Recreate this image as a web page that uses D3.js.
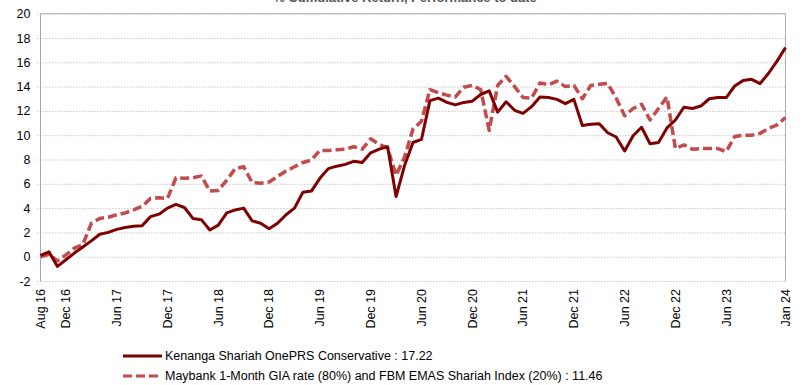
<!DOCTYPE html>
<html>
<head>
<meta charset="utf-8">
<script src="https://cdn.jsdelivr.net/npm/d3@7"></script>
<style>
  html, body { margin: 0; padding: 0; background: #fff; }
  svg { display: block; font-family: "Liberation Sans", Arial, sans-serif; }
</style>
</head>
<body>
<svg id="chart" width="803" height="385"></svg>
<script>
// ---- Data ----
const seriesNames = [
  "Kenanga Shariah OnePRS Conservative : 17.22",
  "Maybank 1-Month GIA rate (80%) and FBM EMAS Shariah Index (20%) : 11.46"
];
const fundValues = [
  0.1, 0.4, -0.8, -0.25, 0.3, 0.8, 1.3, 1.85, 2.0, 2.25,
  2.4, 2.5, 2.55, 3.3, 3.5, 4.0, 4.3, 4.05, 3.15, 3.05,
  2.2, 2.6, 3.6, 3.85, 4.0, 2.95, 2.75, 2.3, 2.75, 3.45,
  4.0, 5.3, 5.4, 6.45, 7.25, 7.45, 7.6, 7.85, 7.75, 8.55,
  8.85, 9.05, 4.95, 7.5, 9.4, 9.65, 12.85, 13.05, 12.7, 12.5,
  12.7, 12.8, 13.35, 13.65, 11.9, 12.75, 12.05, 11.8, 12.35, 13.15,
  13.1, 12.95, 12.6, 12.95, 10.8, 10.9, 10.95, 10.2, 9.85, 8.7,
  9.95, 10.65, 9.3, 9.4, 10.6, 11.25, 12.3, 12.2, 12.4, 13.0,
  13.1, 13.1, 14.05, 14.5, 14.6, 14.25, 15.1, 16.1, 17.22
];
const benchmarkValues = [
  0.0, 0.2, -0.35, 0.15, 0.7, 1.0, 2.75, 3.15, 3.25, 3.45,
  3.6, 3.85, 4.15, 4.8, 4.85, 4.8, 6.5, 6.45, 6.5, 6.65,
  5.4, 5.45, 6.3, 7.25, 7.4, 6.1, 6.05, 6.15, 6.6, 7.05,
  7.4, 7.75, 7.95, 8.75, 8.75, 8.8, 8.85, 9.05, 8.85, 9.7,
  9.25, 8.95, 6.7, 8.2, 10.5, 11.15, 13.75, 13.5, 13.3, 13.15,
  13.95, 14.1, 13.75, 10.4, 14.1, 14.85, 14.0, 13.1, 13.05, 14.3,
  14.15, 14.45, 14.0, 14.1, 13.0, 14.1, 14.2, 14.25, 13.05, 11.6,
  12.2, 12.55, 11.25, 12.2, 13.15, 8.9, 9.2, 8.85, 8.9, 8.9,
  8.9, 8.65, 9.9, 10.0, 10.0, 10.15, 10.55, 10.85, 11.46
];
const tickLabels = ["Aug 16","Dec 16","Jun 17","Dec 17","Jun 18","Dec 18","Jun 19","Dec 19",
                    "Jun 20","Dec 20","Jun 21","Dec 21","Jun 22","Dec 22","Jun 23","Jan 24"];
const tickIndex  = [0, 3, 9, 15, 21, 27, 33, 39, 45, 51, 57, 63, 69, 75, 81, 88];
const yTicks = [-2, 0, 2, 4, 6, 8, 10, 12, 14, 16, 18, 20];
const titleText = "% Cumulative Return, Performance to date";

// ---- Layout ----
const svg = d3.select("#chart");
const plotLeft = 40.5, plotRight = 785.5, plotTop = 13.7, plotBottom = 281;
const solidColor = "#7f0000", dashColor = "#c24b4b";

const x = d3.scaleLinear().domain([0, fundValues.length - 1]).range([plotLeft, plotRight]);
const y = d3.scaleLinear().domain([-2, 20]).range([plotBottom, plotTop]);

// Title (cut off at top in reference)
svg.append("text").attr("x", 405).attr("y", 2).attr("text-anchor", "middle")
  .attr("font-size", 13).attr("font-weight", "bold").attr("fill", "#555").text(titleText);

// Gridlines (dotted) + ticks
const yAxis = d3.axisLeft(y).tickValues(yTicks).tickSize(plotRight - plotLeft + 4).tickFormat(d => d);
const gy = svg.append("g").attr("transform", `translate(${plotRight},0)`).call(yAxis);
gy.select(".domain").remove();
gy.selectAll(".tick line").attr("stroke", "#c8c8c8").attr("stroke-dasharray", "1.5,1.5");
gy.selectAll(".tick text").attr("x", -(plotRight - plotLeft) - 10).attr("font-size", 12.5)
  .attr("fill", "#000").attr("font-family", "Liberation Sans, Arial, sans-serif");

// Frame: top, left, right solid grey
svg.append("line").attr("x1", plotLeft).attr("x2", plotRight).attr("y1", y(20)).attr("y2", y(20))
  .attr("stroke", "#b0b0b0");
svg.append("line").attr("x1", plotLeft).attr("x2", plotLeft).attr("y1", y(20)).attr("y2", y(-2))
  .attr("stroke", "#a6a6a6");
svg.append("line").attr("x1", plotRight).attr("x2", plotRight).attr("y1", y(20)).attr("y2", y(-2))
  .attr("stroke", "#b0b0b0");

// X labels
const gx = svg.append("g");
gx.selectAll("text").data(tickIndex).join("text")
  .attr("transform", d => `translate(${x(d)},${plotBottom + 8}) rotate(-90)`)
  .attr("dy", "0.35em").attr("text-anchor", "end").attr("font-size", 12.5).attr("fill", "#000")
  .text((d, i) => tickLabels[i]);

// Lines
const line = d3.line().x((d, i) => x(i)).y(d => y(d));
svg.append("path").datum(benchmarkValues).attr("d", line).attr("fill", "none")
  .attr("stroke", dashColor).attr("stroke-width", 3.5).attr("stroke-dasharray", "9,4")
  .attr("stroke-linejoin", "round");
svg.append("path").datum(fundValues).attr("d", line).attr("fill", "none")
  .attr("stroke", solidColor).attr("stroke-width", 3).attr("stroke-linejoin", "round");

// Legend
const legend = svg.append("g");
const legendRows = [
  {name: seriesNames[0], color: solidColor, dash: null, yy: 356},
  {name: seriesNames[1], color: dashColor, dash: "9,4", yy: 376}
];
legendRows.forEach(r => {
  legend.append("line").attr("x1", 123).attr("x2", 162).attr("y1", r.yy).attr("y2", r.yy)
    .attr("stroke", r.color).attr("stroke-width", 3).attr("stroke-dasharray", r.dash);
  legend.append("text").attr("x", 165).attr("y", r.yy).attr("dy", "0.35em")
    .attr("font-size", 12.5).attr("fill", "#000").text(r.name);
});
</script>
</body>
</html>
